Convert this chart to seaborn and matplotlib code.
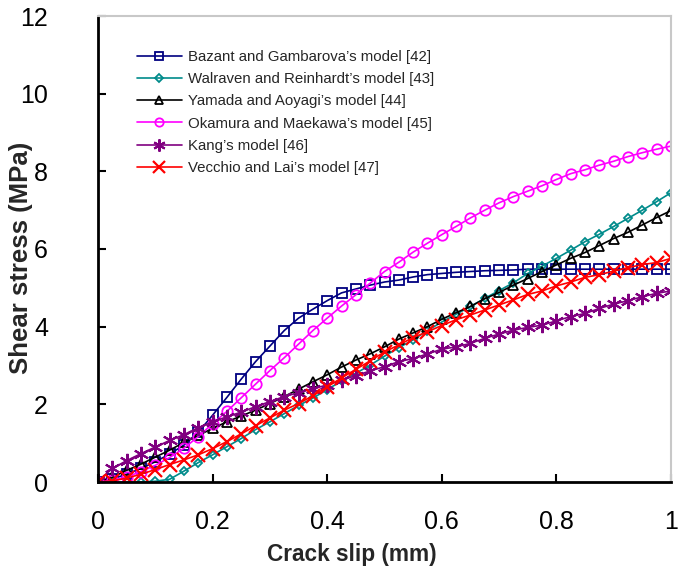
import numpy as np
import pandas as pd
import matplotlib
matplotlib.use("Agg")
import matplotlib.pyplot as plt
import seaborn as sns

slip = [round(0.025 * i, 3) for i in range(41)]

bazant = [0, 0.08, 0.2, 0.35, 0.52, 0.72, 0.95, 1.28, 1.72, 2.18,
          2.65, 3.1, 3.5, 3.9, 4.22, 4.45, 4.67, 4.87, 4.97, 5.07,
          5.15, 5.2, 5.28, 5.34, 5.37, 5.4, 5.42, 5.44, 5.45, 5.46,
          5.48, 5.48, 5.48, 5.48, 5.48, 5.48, 5.48, 5.48, 5.48, 5.48, 5.48]
walraven = [0, 0, 0, 0, 0.02, 0.07, 0.28, 0.5, 0.7, 0.91,
            1.12, 1.35, 1.55, 1.76, 1.97, 2.16, 2.38, 2.6, 2.8, 3.01,
            3.24, 3.46, 3.66, 3.9, 4.12, 4.32, 4.52, 4.73, 4.93, 5.13,
            5.37, 5.56, 5.76, 5.97, 6.19, 6.38, 6.58, 6.79, 7.0, 7.22, 7.45]
yamada = [0, 0.12, 0.3, 0.46, 0.64, 0.82, 1.02, 1.2, 1.38, 1.55,
          1.7, 1.85, 2.02, 2.2, 2.39, 2.58, 2.76, 2.96, 3.14, 3.3,
          3.48, 3.68, 3.84, 4.0, 4.19, 4.36, 4.52, 4.72, 4.88, 5.07,
          5.24, 5.42, 5.59, 5.76, 5.91, 6.09, 6.27, 6.43, 6.62, 6.81, 6.99]
okamura = [0, 0.04, 0.13, 0.27, 0.43, 0.63, 0.87, 1.17, 1.5, 1.82,
           2.17, 2.52, 2.87, 3.2, 3.55, 3.9, 4.22, 4.53, 4.82, 5.12,
           5.42, 5.66, 5.92, 6.15, 6.37, 6.58, 6.8, 7.0, 7.19, 7.35,
           7.49, 7.63, 7.79, 7.94, 8.04, 8.16, 8.26, 8.38, 8.48, 8.57, 8.65]
kang = [0.02, 0.35, 0.55, 0.73, 0.9, 1.07, 1.22, 1.4, 1.55, 1.68,
        1.8, 1.94, 2.07, 2.2, 2.3, 2.4, 2.5, 2.62, 2.74, 2.86,
        2.97, 3.1, 3.18, 3.3, 3.42, 3.48, 3.57, 3.7, 3.81, 3.91,
        3.98, 4.04, 4.15, 4.26, 4.34, 4.47, 4.58, 4.67, 4.77, 4.86, 4.92]
vecchio = [0, 0.03, 0.1, 0.2, 0.32, 0.45, 0.57, 0.7, 0.86, 1.04,
           1.24, 1.45, 1.65, 1.85, 2.02, 2.22, 2.45, 2.68, 2.9, 3.12,
           3.35, 3.53, 3.72, 3.87, 4.03, 4.18, 4.3, 4.43, 4.56, 4.69,
           4.83, 4.92, 5.05, 5.15, 5.27, 5.34, 5.43, 5.52, 5.6, 5.65, 5.76]

labels = ["Bazant and Gambarova\u2019s model [42]",
          "Walraven and Reinhardt\u2019s model [43]",
          "Yamada and Aoyagi\u2019s model [44]",
          "Okamura and Maekawa\u2019s model [45]",
          "Kang\u2019s model [46]",
          "Vecchio and Lai\u2019s model [47]"]
series = [bazant, walraven, yamada, okamura, kang, vecchio]

styles = [
    dict(color="#000080", marker="s", ms=6.5, mfc="none", mew=1.3),
    dict(color="#008B8B", marker="D", ms=4.5, mfc="none", mew=1.3),
    dict(color="#000000", marker="^", ms=6.5, mfc="none", mew=1.3),
    dict(color="#FF00FF", marker="o", ms=7.5, mfc="none", mew=1.3),
    dict(color="#800080", marker=(6, 2, 0), ms=11, mew=1.5),
    dict(color="#FF0000", marker="x", ms=10, mew=1.6),
]

sns.set_style("white")
plt.rcParams["font.family"] = ["Liberation Sans", "DejaVu Sans"]

fig = plt.figure(figsize=(6.78, 5.78), dpi=100)
ax = fig.add_axes([98 / 678, 1 - 482 / 578, (671 - 98) / 678, (482 - 16) / 578])

for lab, ys, st in zip(labels, series, styles):
    df = pd.DataFrame({"slip": slip, "stress": ys})
    sns.lineplot(data=df, x="slip", y="stress", ax=ax, label=lab,
                 linewidth=1.2, color=st["color"], marker=st["marker"],
                 markersize=st["ms"], markerfacecolor=st.get("mfc", st["color"]),
                 markeredgecolor=st["color"], markeredgewidth=st["mew"])

ax.set_xlim(0, 1)
ax.set_ylim(0, 12)
ax.set_xticks([0, 0.2, 0.4, 0.6, 0.8, 1.0])
ax.set_xticklabels(["0", "0.2", "0.4", "0.6", "0.8", "1"])
ax.set_yticks([0, 2, 4, 6, 8, 10, 12])
ax.tick_params(direction="in", length=6, width=1.5, labelsize=18,
               colors="black", bottom=True, left=True)
ax.tick_params(axis="y", pad=36)
ax.tick_params(axis="x", pad=20)
ax.set_xlabel("Crack slip (mm)", fontsize=16.3, fontweight="bold")
ax.set_ylabel("Shear stress (MPa)", fontsize=18.5, fontweight="bold")
ax.xaxis.set_label_coords(0.443, -0.13)
ax.yaxis.set_label_coords(-0.114, 0.48)

for side in ["left", "bottom"]:
    ax.spines[side].set_color("black")
    ax.spines[side].set_linewidth(2)
for side in ["top", "right"]:
    ax.spines[side].set_color("#c8c8c8")
    ax.spines[side].set_linewidth(1.5)

leg = ax.legend(loc="upper left", bbox_to_anchor=(0.057, 0.94), frameon=False,
                fontsize=10.8, handlelength=3, handletextpad=0.45,
                labelspacing=0.55, borderaxespad=0)
for h in leg.legend_handles:
    h.set_markersize(h.get_markersize() * 0.8)

fig.savefig("out.png", dpi=100)
